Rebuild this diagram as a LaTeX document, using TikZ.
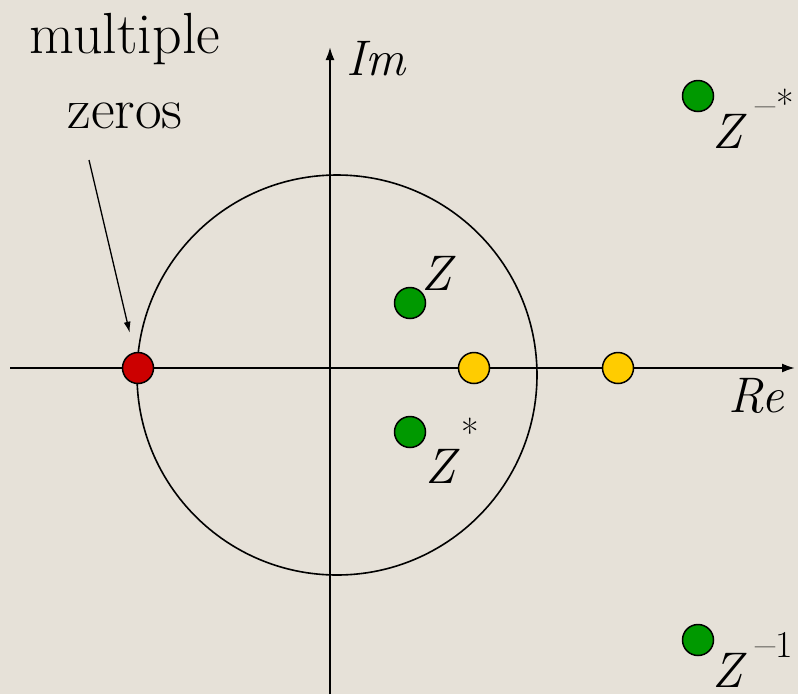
\documentclass[tikz,border=0pt]{standalone}
\usepackage{tikz}
\usetikzlibrary{arrows.meta, positioning}

\definecolor{paper}{RGB}{230,225,216}
\definecolor{zred}{RGB}{204,0,0}
\definecolor{zgreen}{RGB}{0,153,0}
\definecolor{zyellow}{RGB}{255,204,0}

\newcommand{\zsup}[2]{\raisebox{#1}{\fontsize{38}{38}\selectfont\upshape #2}}
\newcommand{\zminus}{\scalebox{1.15}[1]{--}}

\begin{document}
\begin{tikzpicture}[
    x=1pt, y=-1pt,
    zdot/.style={circle, draw, line width=1.5pt, minimum size=31pt, inner sep=0pt},
    axis/.style={line width=2pt, -{Latex[length=13pt, width=9pt]}},
    pointer/.style={line width=1.3pt, -{Latex[length=11pt, width=7pt]}},
    lbl/.style={inner sep=0pt, font=\fontsize{50}{50}\selectfont\itshape},
]

% background
\fill[paper] (0,0) rectangle (798,694);
\useasboundingbox (0,0) rectangle (798,694);

% axes and unit circle
\coordinate (o) at (337,375);
\coordinate (rew) at (10,368);
\coordinate (ree) at (795,368);
\coordinate (ims) at (330,694);
\coordinate (imn) at (330,47);
\draw[line width=1.6pt] (o) circle[radius=200];
\draw[axis] (rew) -- (ree);
\draw[axis] (ims) -- (imn);
\node[lbl, anchor=base west] (im) at (346,75) {Im};
\node[lbl, anchor=base west] (re) at (728,412) {Re};

% zeros
\node[zdot, fill=zred] (mz) at (138,368) {};
\node[zdot, fill=zyellow] (ra) at (474,368) {};
\node[zdot, fill=zyellow] (rb) at (618,368) {};
\node[zdot, fill=zgreen] (z) at (410,303) {};
\node[zdot, fill=zgreen] (zc) at (410,432) {};
\node[zdot, fill=zgreen] (zr) at (698,96) {};
\node[zdot, fill=zgreen] (zi) at (698,640) {};

% labels
\node[lbl, anchor=base west] (zl) at (421,290) {Z};
\node[lbl, anchor=base west] (zcl) at (425,483) {Z\hspace{6pt}\zsup{37pt}{*}};
\node[lbl, anchor=base west] (zrl) at (712,148) {Z\hspace{13pt}\zsup{31pt}{\zminus\kern1pt*}};
\node[lbl, anchor=base west] (zil) at (712,687) {Z\hspace{13pt}\zsup{30pt}{\zminus1}};

% note
\node[align=center, font=\fontsize{58}{75}\selectfont, inner sep=0pt, anchor=base] (note) at (125,128) {multiple\\zeros};
\coordinate (ptail) at (89,160);
\draw[pointer, shorten >=20pt] (ptail) -- (mz);

\end{tikzpicture}
\end{document}
